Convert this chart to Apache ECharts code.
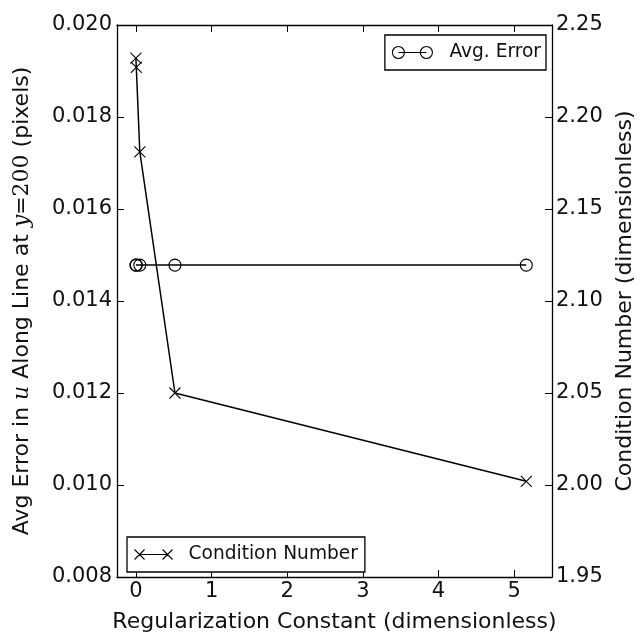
<!DOCTYPE html>
<html>
<head>
<meta charset="utf-8">
<script src="https://cdn.jsdelivr.net/npm/echarts@6/dist/echarts.min.js"></script>
<style>
html,body{margin:0;padding:0;background:#fff;}
#c{width:644px;height:638px;}
</style>
</head>
<body>
<div id="c"></div>
<script>
// ---- data ----
const regConst = [0, 0.00516, 0.0516, 0.516, 5.16];
const avgError = [0.01478, 0.01478, 0.01478, 0.01478, 0.01478];
const condNum = [2.232, 2.227, 2.181, 2.050, 2.002];
const xTicks = [0, 1, 2, 3, 4, 5];
const leftTicks = [0.008, 0.010, 0.012, 0.014, 0.016, 0.018, 0.020];
const rightTicks = [1.95, 2.00, 2.05, 2.10, 2.15, 2.20, 2.25];

const FONT = 'DejaVu Sans';
const TICK_FS = 21, TITLE_FS = 22, LEG_FS = 18.6;
const crossPath = 'path://M0,0L10,10M10,0L0,10';
const circleLegend = 'path://M0,6A6,6 0 1,1 12,6A6,6 0 1,1 0,6ZM6,6L34,6M28,6A6,6 0 1,1 40,6A6,6 0 1,1 28,6Z';
const crossLegend = 'path://M0,0L10,10M10,0L0,10M5,5L33,5M28,0L38,10M38,0L28,10';

const chart = echarts.init(document.getElementById('c'), null, {renderer: 'canvas'});
const axisLineStyle = {color: '#000', width: 1.3};
const tickStyle = {color: '#000', width: 1};
chart.setOption({
  animation: false,
  backgroundColor: '#fff',
  grid: {left: 117, top: 25, right: 89, bottom: 59, containLabel: false},
  xAxis: [{
    type: 'value', min: -0.25, max: 5.5,
    name: 'Regularization Constant (dimensionless)',
    nameLocation: 'middle', nameGap: 34,
    nameTextStyle: {fontFamily: FONT, fontSize: TITLE_FS, color: '#111'},
    axisLine: {show: true, onZero: false, lineStyle: axisLineStyle},
    axisTick: {show: true, inside: true, length: 7, lineStyle: tickStyle, customValues: xTicks},
    axisLabel: {fontFamily: FONT, fontSize: TICK_FS, color: '#111', margin: 4, customValues: xTicks},
    splitLine: {show: false}
  }, {
    type: 'value', min: -0.25, max: 5.5, position: 'top',
    axisLine: {show: true, onZero: false, lineStyle: axisLineStyle},
    axisTick: {show: true, inside: true, length: 7, lineStyle: tickStyle, customValues: xTicks},
    axisLabel: {show: false, customValues: xTicks},
    splitLine: {show: false}
  }],
  yAxis: [{
    type: 'value', min: 0.008, max: 0.020, position: 'left',
    name: 'Avg Error in {i|u} Along Line at {i|y}{m|=200} (pixels)',
    nameLocation: 'middle', nameGap: 84, nameRotate: 90,
    nameTextStyle: {fontFamily: FONT, fontSize: TITLE_FS, color: '#111',
      rich: {
        i: {fontFamily: 'DejaVu Serif', fontStyle: 'italic', fontSize: TITLE_FS, color: '#111'},
        m: {fontFamily: 'DejaVu Serif', fontSize: TITLE_FS, color: '#111'}
      }},
    axisLine: {show: true, onZero: false, lineStyle: axisLineStyle},
    axisTick: {show: true, inside: true, length: 7, lineStyle: tickStyle, customValues: leftTicks},
    axisLabel: {fontFamily: FONT, fontSize: TICK_FS, color: '#111', margin: 5, customValues: leftTicks,
      formatter: v => v.toFixed(3)},
    splitLine: {show: false}
  }, {
    type: 'value', min: 1.95, max: 2.25, position: 'right',
    name: 'Condition Number (dimensionless)',
    nameLocation: 'middle', nameGap: 62, nameRotate: 90,
    nameTextStyle: {fontFamily: FONT, fontSize: TITLE_FS, color: '#111'},
    axisLine: {show: true, onZero: false, lineStyle: axisLineStyle},
    axisTick: {show: true, inside: true, length: 7, lineStyle: tickStyle, customValues: rightTicks},
    axisLabel: {fontFamily: FONT, fontSize: TICK_FS, color: '#111', margin: 4, customValues: rightTicks,
      formatter: v => v.toFixed(2)},
    splitLine: {show: false}
  }],
  legend: [{
    data: [{name: 'Avg. Error', icon: circleLegend}],
    right: 98, top: 35,
    orient: 'vertical',
    itemWidth: 40, itemHeight: 12,
    itemGap: 0,
    padding: [8, 5, 8, 7],
    borderColor: '#000', borderWidth: 1.3, borderRadius: 0,
    backgroundColor: '#fff',
    textStyle: {fontFamily: FONT, fontSize: LEG_FS, color: '#111', padding: [0, 0, 0, 12]},
    itemStyle: {color: 'transparent', borderColor: '#000', borderWidth: 1.1},
    selectedMode: false
  }, {
    data: [{name: 'Condition Number', icon: crossLegend}],
    left: 127, top: 537,
    orient: 'vertical',
    itemWidth: 38, itemHeight: 10,
    itemGap: 0,
    padding: [8, 7, 8, 7],
    borderColor: '#000', borderWidth: 1.3, borderRadius: 0,
    backgroundColor: '#fff',
    textStyle: {fontFamily: FONT, fontSize: LEG_FS, color: '#111', padding: [0, 0, 0, 11]},
    itemStyle: {color: 'transparent', borderColor: '#000', borderWidth: 1.1},
    selectedMode: false
  }],
  series: [{
    name: 'Avg. Error', type: 'line', xAxisIndex: 0, yAxisIndex: 0,
    data: regConst.map((x, i) => [x, avgError[i]]),
    symbol: 'circle', symbolSize: 12,
    lineStyle: {color: '#000', width: 1.5},
    itemStyle: {color: 'transparent', borderColor: '#000', borderWidth: 1.1},
    z: 3
  }, {
    name: 'Condition Number', type: 'line', xAxisIndex: 0, yAxisIndex: 1,
    data: regConst.map((x, i) => [x, condNum[i]]),
    symbol: crossPath, symbolSize: 11,
    lineStyle: {color: '#000', width: 1.5},
    itemStyle: {color: 'transparent', borderColor: '#000', borderWidth: 1.1},
    z: 3
  }]
});
</script>
</body>
</html>
